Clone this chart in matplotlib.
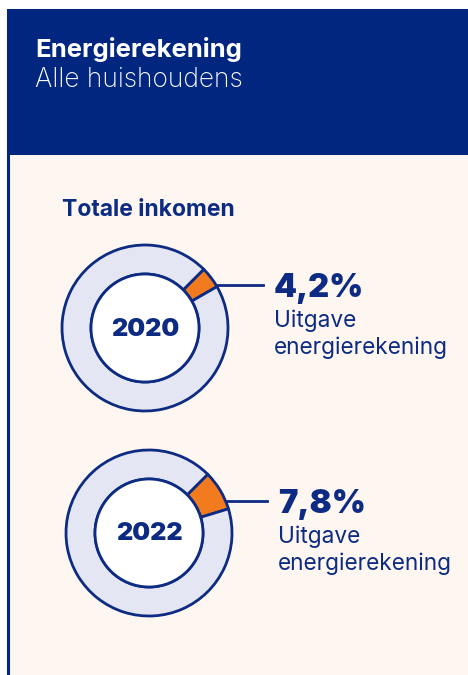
import matplotlib
matplotlib.use("Agg")
import matplotlib.pyplot as plt
from matplotlib.patches import Rectangle, Circle

plt.rcParams['font.family'] = ['Inter', 'DejaVu Sans']

# data
title = "Energierekening"
subtitle = "Alle huishoudens"
section = "Totale inkomen"
years = ["2020", "2022"]
shares = [4.2, 7.8]          # % of income spent on energy bill
share_labels = ["4,2%", "7,8%"]
caption = "Uitgave\nenergierekening"

# colours
navy = "#00267f"
ink = "#0d2b83"
cream = "#fdf6f1"
ring = "#e4e7f3"
orange = "#f27a1f"

W, H, DPI = 468, 675, 100
fig = plt.figure(figsize=(W / DPI, H / DPI), dpi=DPI)
fig.patch.set_facecolor("white")

ax = fig.add_axes([0, 0, 1, 1])
ax.set_xlim(0, W)
ax.set_ylim(H, 0)
ax.axis("off")

# panel background + header
ax.add_patch(Rectangle((7, 155), W - 7, H - 155, facecolor=cream, edgecolor="none"))
ax.add_patch(Rectangle((7, 9), W - 7, 146, facecolor=navy, edgecolor="none"))
ax.plot([7.5, 7.5], [9, H], color=navy, lw=2.2, solid_capstyle="butt")

ax.text(35, 49, title, color="white", fontsize=18.5, fontweight="bold", va="center")
ax.text(35, 80, subtitle, color="white", fontsize=19, fontweight="light", va="center")
ax.text(62, 210, section, color=ink, fontsize=16.5, fontweight="bold", va="center")

# donut layout (pixels)
centers = [(145, 328), (149, 533)]
r_out, r_in = 83, 54
line_y = [285, 501]
line_end = [263, 267]
half = 92

for i, (year, share) in enumerate(zip(years, shares)):
    cx, cy = centers[i]
    dax = fig.add_axes([(cx - half) / W, 1 - (cy + half) / H, 2 * half / W, 2 * half / H])
    dax.pie([share, 100 - share], colors=[orange, ring], startangle=45, counterclock=False,
            radius=r_out, wedgeprops=dict(width=r_out - r_in, edgecolor=ink, linewidth=2))
    dax.add_patch(Circle((0, 0), r_in, facecolor="white", edgecolor=ink, lw=2, zorder=5))
    dax.text(0, -1, year, ha="center", va="center", color=ink, fontsize=18,
             fontweight=900, zorder=6)
    dax.set_xlim(-half, half)
    dax.set_ylim(-half, half)
    dax.set_aspect("equal")
    dax.axis("off")

    # connector line from ring edge to label
    dy = cy - line_y[i]
    x0 = cx + (r_out ** 2 - dy ** 2) ** 0.5
    ax.plot([x0, line_end[i]], [line_y[i], line_y[i]], color=ink, lw=2)
    ax.text(line_end[i] + 11, line_y[i] + 4, share_labels[i], color=ink, fontsize=23.5,
            fontweight=900, va="center")
    ax.text(line_end[i] + 11, line_y[i] + 25, caption, color=ink, fontsize=16.3,
            va="top", linespacing=1.22)

fig.savefig("out.png", dpi=DPI)
